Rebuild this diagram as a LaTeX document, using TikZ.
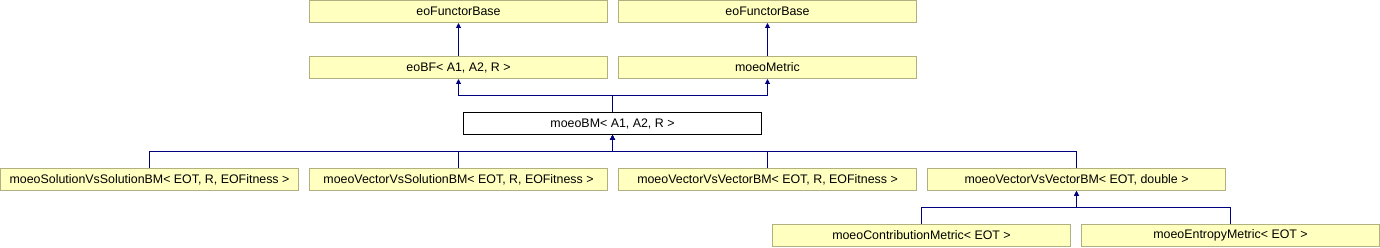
\documentclass[tikz,border=0pt]{standalone}
\usepackage{fontspec}
\setmainfont{Liberation Sans}
\usetikzlibrary{arrows.meta}
\definecolor{clsfill}{HTML}{FFFFC0}
\definecolor{clsline}{HTML}{B0B080}
\definecolor{inhline}{HTML}{000080}
\begin{document}
\begin{tikzpicture}[x=1pt, y=1pt,
    cls/.style={draw=clsline, fill=clsfill, line width=1pt, minimum width=298pt,
      minimum height=22pt, inner sep=0pt, font=\fontsize{12.4}{14}\selectfont},
    curcls/.style={cls, draw=black, fill=white},
    inh/.style={draw=inhline, line width=1pt, -{Triangle[length=5pt, width=5pt]}}]
  \useasboundingbox (0,0) rectangle (1380,248);

  \node[cls] (fb1) at (458.5,236.5) {eoFunctorBase};
  \node[cls] (fb2) at (767.5,236.5) {eoFunctorBase};
  \node[cls] (ebf) at (458.5,180.5) {eoBF\textless{} A1, A2, R \textgreater};
  \node[cls] (mme) at (767.5,180.5) {moeoMetric};
  \node[curcls] (mbm) at (612.5,124.5) {moeoBM\textless{} A1, A2, R \textgreater};
  \node[cls] (svs) at (149.5,68.5) {moeoSolutionVsSolutionBM\textless{} EOT, R, EOFitness \textgreater};
  \node[cls] (vvs) at (458.5,68.5) {moeoVectorVsSolutionBM\textless{} EOT, R, EOFitness \textgreater};
  \node[cls] (vvv) at (767.5,68.5) {moeoVectorVsVectorBM\textless{} EOT, R, EOFitness \textgreater};
  \node[cls] (vvd) at (1076.5,68.5) {moeoVectorVsVectorBM\textless{} EOT, double \textgreater};
  \node[cls] (cme) at (921.5,12.5) {moeoContributionMetric\textless{} EOT \textgreater};
  \node[cls] (eme) at (1230.5,12.5) {moeoEntropyMetric\textless{} EOT \textgreater};

  \draw[inh] (ebf) -- (fb1);
  \draw[inh] (mme) -- (fb2);
  \draw[inh] (mbm.north) -- ++(0,16) -| (ebf.south);
  \draw[inh] (mbm.north) -- ++(0,16) -| (mme.south);
  \foreach \nn in {svs, vvs, vvv, vvd} {
    \draw[inh] (\nn.north) -- ++(0,16) -| (mbm.south);
  }
  \draw[inh] (cme.north) -- ++(0,16) -| (vvd.south);
  \draw[inh] (eme.north) -- ++(0,16) -| (vvd.south);
\end{tikzpicture}
\end{document}
